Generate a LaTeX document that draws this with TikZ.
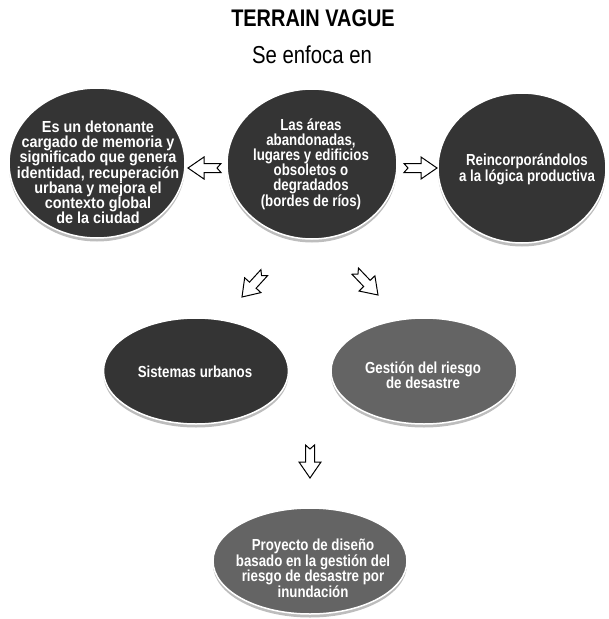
\documentclass[tikz,border=0pt]{standalone}
\usepackage{fontspec}
\setmainfont{Liberation Sans}
\newfontfamily\narrowsans[FakeStretch=0.83]{Liberation Sans}
\newfontfamily\widesans[FakeStretch=0.9]{Liberation Sans}
\usetikzlibrary{shapes.geometric,shadows}
\definecolor{bubbledark}{HTML}{343434}
\definecolor{bubblegrey}{HTML}{646464}
\definecolor{rimgrey}{HTML}{BDBDBD}
\tikzset{
  blockarrow/.pic={
    \draw[arrowline] (0pt,0pt) -- (-16pt,11pt) -- (-16pt,4.5pt) -- (-33pt,4.5pt)
      -- (-29pt,0pt) -- (-33pt,-4.5pt) -- (-16pt,-4.5pt) -- (-16pt,-11pt) -- cycle;
  }
}
\begin{document}
\begin{tikzpicture}[x=1pt,y=-1pt,
  bubble/.style={ellipse, draw=white, line width=1.5pt, inner sep=0pt,
    drop shadow={shadow xshift=0pt, shadow yshift=-3.5pt, fill=rimgrey, opacity=1}},
  darkbubble/.style={bubble, fill=bubbledark},
  greybubble/.style={bubble, fill=bubblegrey},
  bubbletext/.style={text=white, align=center, inner sep=0pt,
    font=\narrowsans\bfseries\fontsize{16}{15}\selectfont},
  widetext/.style={bubbletext, font=\widesans\bfseries\fontsize{16}{15}\selectfont},
  arrowline/.style={draw=black, fill=white, line width=1pt, line join=miter},
  heading/.style={anchor=base, font=\narrowsans\bfseries\fontsize{24}{28}\selectfont},
  subheading/.style={anchor=base, font=\narrowsans\fontsize{24.5}{28}\selectfont}
]
\useasboundingbox (0,0) rectangle (609,619);

% headings
\node[heading] (title) at (313,26) {TERRAIN VAGUE};
\node[subheading] (focus) at (312,63) {Se enfoca en};

% bubbles
\node[darkbubble, minimum width=176pt, minimum height=150pt] (memoria) at (97,163) {};
\node[darkbubble, minimum width=170pt, minimum height=150pt] (areas) at (312,164) {};
\node[darkbubble, minimum width=168pt, minimum height=150pt] (logica) at (522,168) {};
\node[darkbubble, minimum width=185pt, minimum height=106pt] (sistemas) at (196,371) {};
\node[greybubble, minimum width=186pt, minimum height=106pt] (gestion) at (424,371) {};
\node[greybubble, minimum width=194pt, minimum height=106pt] (proyecto) at (310,561) {};

% bubble texts
\node[widetext] (memoria-t) at (98,172) {Es un detonante\\cargado de memoria y\\significado que genera\\identidad, recuperación\\urbana y mejora el\\contexto global\\de la ciudad};
\node[bubbletext] (areas-t) at (311,164) {Las áreas\\abandonadas,\\lugares y edificios\\obsoletos o\\degradados\\(bordes de ríos)};
\node[bubbletext] (logica-t) at (527,169) {Reincorporándolos\\a la lógica productiva};
\node[bubbletext] (sistemas-t) at (195,372) {Sistemas urbanos};
\node[bubbletext] (gestion-t) at (423,375) {Gestión del riesgo\\de desastre};
\node[bubbletext] (proyecto-t) at (313,568) {Proyecto de diseño\\basado en la gestión del\\riesgo de desastre por\\inundación};

% block arrows (placed at their tips)
\coordinate (tip-memoria) at (188,168);
\coordinate (tip-logica) at (437,168);
\coordinate (tip-sistemas) at (242,297);
\coordinate (tip-gestion) at (378,295);
\coordinate (tip-proyecto) at (310,478);
\pic[rotate=180] at (tip-memoria) {blockarrow};
\pic at (tip-logica) {blockarrow};
\pic[rotate=227.6] at (tip-sistemas) {blockarrow};
\pic[rotate=-46.3] at (tip-gestion) {blockarrow};
\pic[rotate=-90] at (tip-proyecto) {blockarrow};
\end{tikzpicture}
\end{document}
